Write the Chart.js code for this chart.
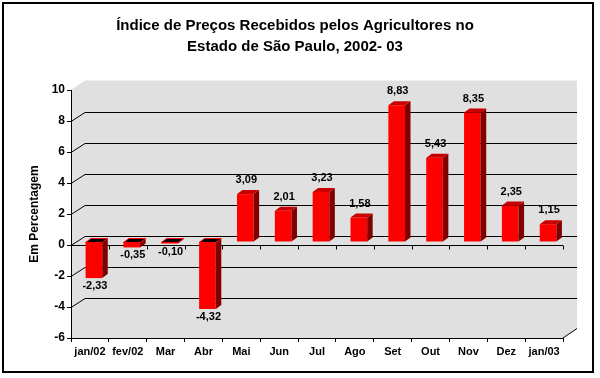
<!DOCTYPE html>
<html><head><meta charset="utf-8">
<script src="https://cdn.jsdelivr.net/npm/chart.js@4.4.1/dist/chart.umd.min.js"></script>
<style>html,body{margin:0;padding:0;background:#fff}#wrap{width:600px;height:378px}</style>
</head><body><div id="wrap"><canvas id="c" width="600" height="378"></canvas></div>
<script>
const categories = ['jan/02','fev/02','Mar','Abr','Mai','Jun','Jul','Ago','Set','Out','Nov','Dez','jan/03'];
const values = [-2.33,-0.35,-0.10,-4.32,3.09,2.01,3.23,1.58,8.83,5.43,8.35,2.35,1.15];
const yTickValues = [-6,-4,-2,0,2,4,6,8,10];
const titleLines = ['Índice de Preços Recebidos pelos Agricultores no','Estado de São Paulo, 2002- 03'];
const yTitle = 'Em Percentagem';

const FONT = 'Arial, "Liberation Sans", sans-serif';
const WALL_DX = 14, WALL_DY = -9.5;
const BAR_DX = 4, BAR_DY = -3;
const SIDE_DX = 5.5, SIDE_DY = -4;

function fmt(v){ return v.toFixed(2).replace('.', ','); }

const plugin3d = {
  id: 'fake3d',
  beforeDraw(chart){
    const {ctx, chartArea:a, scales:{x, y}} = chart;
    ctx.save();
    ctx.fillStyle = '#fff';
    ctx.fillRect(0, 0, chart.width, chart.height);
    // wall
    ctx.fillStyle = '#E0E0E0';
    ctx.beginPath();
    ctx.moveTo(a.left, a.top);
    ctx.lineTo(a.left + WALL_DX, a.top + WALL_DY);
    ctx.lineTo(a.right + WALL_DX, a.top + WALL_DY);
    ctx.lineTo(a.right + WALL_DX, a.bottom + WALL_DY);
    ctx.lineTo(a.right, a.bottom);
    ctx.lineTo(a.left, a.bottom);
    ctx.closePath();
    ctx.fill();
    // back wall grid lines
    ctx.strokeStyle = '#000';
    ctx.lineWidth = 1;
    yTickValues.forEach(v => {
      if (v === y.min || v === y.max) return;
      const py = Math.round(y.getPixelForValue(v)) + 0.5;
      const by = Math.round(py + WALL_DY) + 0.5;
      ctx.beginPath();
      ctx.moveTo(a.left, py);
      ctx.lineTo(a.left + WALL_DX, by);
      ctx.lineTo(a.right + WALL_DX, by);
      ctx.stroke();
    });
    // bottom-right diagonal
    ctx.beginPath();
    ctx.moveTo(a.right, a.bottom);
    ctx.lineTo(a.right + WALL_DX, a.bottom + WALL_DY);
    ctx.stroke();
    // zero line with ticks
    const y0 = Math.round(y.getPixelForValue(0)) + 0.5;
    ctx.beginPath();
    ctx.moveTo(a.left, y0);
    ctx.lineTo(a.right, y0);
    const step = x.getPixelForValue(1) - x.getPixelForValue(0);
    for (let i = 0; i <= categories.length; i++) {
      const bx = Math.round(x.getPixelForValue(i) - step / 2) + 0.5;
      ctx.moveTo(bx, y0);
      ctx.lineTo(bx, y0 + 4);
    }
    ctx.stroke();
    // outer border
    ctx.lineWidth = 2;
    ctx.strokeRect(3, 3, 590, 369);
    ctx.restore();
  },
  beforeDatasetsDraw(chart){
    chart.ctx.save();
    chart.ctx.translate(BAR_DX, BAR_DY);
  },
  afterDatasetsDraw(chart){
    const ctx = chart.ctx;
    ctx.restore();
    ctx.save();
    const meta = chart.getDatasetMeta(0);
    meta.data.forEach((bar, i) => {
      const p = bar.getProps(['x', 'y', 'base', 'width'], true);
      const left = p.x - p.width / 2 + BAR_DX;
      const right = p.x + p.width / 2 + BAR_DX;
      const top = Math.min(p.y, p.base) + BAR_DY;
      const bottom = Math.max(p.y, p.base) + BAR_DY;
      const v = values[i];
      // side
      ctx.fillStyle = '#800000';
      ctx.beginPath();
      ctx.moveTo(right, top);
      ctx.lineTo(right + SIDE_DX, top + SIDE_DY);
      ctx.lineTo(right + SIDE_DX, bottom + SIDE_DY);
      ctx.lineTo(right, bottom);
      ctx.closePath();
      ctx.fill();
      // top
      ctx.beginPath();
      ctx.moveTo(left, top);
      ctx.lineTo(left + SIDE_DX, top + SIDE_DY);
      ctx.lineTo(right + SIDE_DX, top + SIDE_DY);
      ctx.lineTo(right, top);
      ctx.closePath();
      if (v >= 0) {
        ctx.fillStyle = '#C80000';
        ctx.fill();
      } else {
        ctx.fillStyle = '#000';
        ctx.fill();
        ctx.strokeStyle = '#FF0000';
        ctx.lineWidth = 1;
        ctx.stroke();
      }
      // label
      ctx.fillStyle = '#000';
      ctx.font = 'bold 11px ' + FONT;
      ctx.textAlign = 'center';
      ctx.textBaseline = 'middle';
      const cx = (left + right) / 2 + 1;
      if (v >= 0) ctx.fillText(fmt(v), cx, top + SIDE_DY - 10);
      else ctx.fillText(fmt(v), cx, bottom + 8);
    });
    ctx.restore();
  }
};

new Chart(document.getElementById('c'), {
  type: 'bar',
  data: {
    labels: categories,
    datasets: [{
      data: values,
      backgroundColor: '#FF0000',
      borderWidth: 0,
      barPercentage: 0.44,
      categoryPercentage: 1
    }]
  },
  options: {
    responsive: false,
    animation: false,
    devicePixelRatio: 1,
    layout: { padding: { left: 27, right: 37, top: 5, bottom: 0 } },
    plugins: {
      legend: { display: false },
      tooltip: { enabled: false },
      title: {
        display: true,
        text: titleLines,
        color: '#000',
        font: { family: FONT, size: 15, weight: 'bold', lineHeight: 1.4 },
        padding: { top: 10, bottom: 33 }
      }
    },
    scales: {
      x: {
        grid: { display: true, drawOnChartArea: false, drawTicks: true, tickLength: 4, color: '#000', offset: true },
        border: { display: true, color: '#000' },
        ticks: { color: '#000', font: { family: FONT, size: 11, weight: 'bold' }, padding: 3, maxRotation: 0, autoSkip: false },
        afterFit(s){ s.height = 40; }
      },
      y: {
        min: -6, max: 10,
        ticks: { stepSize: 2, color: '#000', font: { family: FONT, size: 12, weight: 'bold' }, padding: 2,
                 callback: v => String(v) },
        grid: { drawOnChartArea: false, drawTicks: true, tickLength: 4, color: '#000' },
        border: { display: true, color: '#000' },
        title: { display: true, text: yTitle, color: '#000', font: { family: FONT, size: 12, weight: 'bold' }, padding: { top: 0, bottom: 0 } },
        afterFit(s){ s.width = 44; }
      }
    }
  },
  plugins: [plugin3d]
});
</script>
</body></html>
